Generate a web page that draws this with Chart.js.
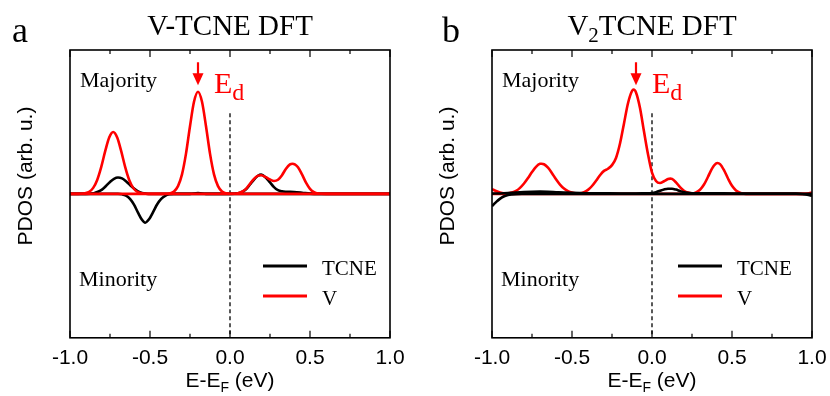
<!DOCTYPE html>
<html>
<head>
<meta charset="utf-8">
<script src="https://cdn.jsdelivr.net/npm/chart.js@4.4.1/dist/chart.umd.min.js"></script>
<style>
  html, body { margin: 0; padding: 0; background: #fff; }
  #wrap { position: relative; width: 830px; height: 396px; }
  .panel { position: absolute; top: 0; width: 415px; height: 396px; }
</style>
</head>
<body>
<div id="wrap">
  <div class="panel" style="left:0"><canvas id="chartA" width="415" height="396"></canvas></div>
  <div class="panel" style="left:415px"><canvas id="chartB" width="415" height="396"></canvas></div>
</div>
<script>
// PDOS, [energy (eV), PDOS (arb. u.)]
// panel a : V-TCNE
var aTcneUp = [[-1, 0], [-0.9, 0], [-0.85, 0.005], [-0.825, 0.015], [-0.8, 0.03], [-0.775, 0.055], [-0.75, 0.083],
  [-0.725, 0.105], [-0.7, 0.114], [-0.675, 0.108], [-0.65, 0.088], [-0.625, 0.062], [-0.6, 0.037], [-0.575, 0.018],
  [-0.55, 0.007], [-0.525, 0.002], [-0.5, 0], [-0.25, 0], [-0.2, 0.006], [-0.15, 0], [0, 0], [0.05, 0.004],
  [0.075, 0.013], [0.1, 0.032], [0.125, 0.065], [0.15, 0.1], [0.175, 0.126], [0.195, 0.134], [0.225, 0.112],
  [0.25, 0.08], [0.275, 0.047], [0.3, 0.026], [0.325, 0.018], [0.35, 0.015], [0.4, 0.013], [0.45, 0.008],
  [0.5, 0.002], [0.55, 0], [1, 0]];
var aTcneDown = [[-1, 0], [-0.7, 0], [-0.675, -0.003], [-0.65, -0.012], [-0.625, -0.035], [-0.6, -0.075],
  [-0.575, -0.13], [-0.55, -0.18], [-0.53, -0.2], [-0.505, -0.175], [-0.48, -0.125], [-0.455, -0.072],
  [-0.43, -0.035], [-0.405, -0.013], [-0.38, -0.003], [-0.35, 0], [1, 0]];
var aVUp = [[-1, 0], [-0.95, 0], [-0.93, 0.001], [-0.905, 0.005], [-0.88, 0.015], [-0.855, 0.042], [-0.83, 0.097],
  [-0.805, 0.186], [-0.78, 0.297], [-0.755, 0.392], [-0.73, 0.43], [-0.705, 0.392], [-0.68, 0.297], [-0.655, 0.186],
  [-0.63, 0.097], [-0.605, 0.042], [-0.58, 0.015], [-0.555, 0.005], [-0.53, 0.001], [-0.5, 0], [-0.425, 0],
  [-0.4, 0.001], [-0.375, 0.004], [-0.35, 0.017], [-0.325, 0.054], [-0.3, 0.136], [-0.275, 0.28], [-0.25, 0.47],
  [-0.225, 0.64], [-0.2, 0.71], [-0.175, 0.64], [-0.15, 0.47], [-0.125, 0.28], [-0.1, 0.136], [-0.075, 0.054],
  [-0.05, 0.017], [-0.025, 0.004], [0, 0.001], [0.025, 0.001], [0.05, 0.005], [0.075, 0.015], [0.1, 0.035],
  [0.125, 0.07], [0.15, 0.105], [0.175, 0.127], [0.195, 0.13], [0.225, 0.116], [0.25, 0.1], [0.275, 0.09],
  [0.3, 0.098], [0.325, 0.13], [0.35, 0.175], [0.375, 0.205], [0.39, 0.21], [0.405, 0.206], [0.425, 0.185],
  [0.45, 0.135], [0.475, 0.078], [0.5, 0.035], [0.525, 0.012], [0.55, 0.003], [0.6, 0], [1, 0]];
var aVDown = [[-1, 0], [1, 0]];

// panel b : V2TCNE
var bTcneUp = [[-1, 0.002], [-0.95, 0.003], [-0.9, 0.006], [-0.85, 0.01], [-0.8, 0.013], [-0.75, 0.015],
  [-0.7, 0.016], [-0.65, 0.015], [-0.6, 0.012], [-0.55, 0.009], [-0.5, 0.007], [-0.4, 0.005], [-0.3, 0.004],
  [-0.2, 0.003], [-0.1, 0.003], [-0.05, 0.004], [0, 0.006], [0.025, 0.012], [0.05, 0.022], [0.075, 0.031],
  [0.1, 0.036], [0.125, 0.036], [0.15, 0.03], [0.175, 0.02], [0.2, 0.011], [0.25, 0.005], [0.3, 0.004],
  [0.4, 0.004], [0.5, 0.003], [0.6, 0.003], [0.7, 0.003], [0.8, 0.003], [0.9, 0.002], [1, 0.001]];
var bTcneDown = [[-1, -0.085], [-0.985, -0.068], [-0.97, -0.052], [-0.955, -0.038], [-0.94, -0.026],
  [-0.92, -0.015], [-0.9, -0.008], [-0.875, -0.004], [-0.85, -0.002], [-0.8, -0.001], [-0.7, 0], [0.9, 0],
  [0.94, -0.002], [0.97, -0.006], [1, -0.013]];
var bVUp = [[-1, 0.033], [-0.975, 0.02], [-0.95, 0.009], [-0.925, 0.004], [-0.9, 0.004], [-0.875, 0.01],
  [-0.85, 0.021], [-0.825, 0.042], [-0.8, 0.072], [-0.775, 0.11], [-0.75, 0.152], [-0.725, 0.188], [-0.7, 0.209],
  [-0.69, 0.21], [-0.675, 0.206], [-0.65, 0.182], [-0.625, 0.144], [-0.6, 0.102], [-0.575, 0.065], [-0.55, 0.037],
  [-0.525, 0.019], [-0.5, 0.009], [-0.475, 0.005], [-0.45, 0.005], [-0.425, 0.012], [-0.4, 0.028], [-0.375, 0.055],
  [-0.35, 0.091], [-0.325, 0.13], [-0.3, 0.16], [-0.275, 0.175], [-0.25, 0.2], [-0.225, 0.25], [-0.2, 0.35],
  [-0.175, 0.49], [-0.15, 0.63], [-0.125, 0.715], [-0.115, 0.725], [-0.1, 0.705], [-0.075, 0.597], [-0.05, 0.433],
  [-0.025, 0.275], [0, 0.148], [0.025, 0.09], [0.05, 0.076], [0.075, 0.088], [0.1, 0.103], [0.115, 0.106],
  [0.125, 0.104], [0.15, 0.08], [0.175, 0.047], [0.2, 0.022], [0.225, 0.009], [0.25, 0.004], [0.275, 0.011],
  [0.3, 0.029], [0.325, 0.065], [0.35, 0.119], [0.375, 0.176], [0.4, 0.211], [0.41, 0.215], [0.425, 0.207],
  [0.45, 0.165], [0.475, 0.107], [0.5, 0.056], [0.525, 0.024], [0.55, 0.008], [0.575, 0.002], [0.6, 0],
  [0.95, 0], [0.975, 0.003], [1, 0.01]];
var bVDown = [[-1, 0], [1, 0]];

// energy of the E_d marker in each panel
var aEd = -0.2;
var bEd = -0.1;

var SERIF = "'Liberation Serif', 'Times New Roman', serif";
var SANS = "'Liberation Sans', Arial, sans-serif";
var RED = '#ff0000';

function toPoints(list) {
  return list.map(function (p) { return { x: p[0], y: p[1] }; });
}

function line(label, list, color, order) {
  return {
    label: label,
    data: toPoints(list),
    borderColor: color,
    borderWidth: 2.6,
    pointRadius: 0,
    fill: false,
    cubicInterpolationMode: 'monotone',
    order: order
  };
}

// draws a string made of [text, fontSize, dy] pieces, left aligned
function drawPieces(ctx, x, y, pieces, family) {
  pieces.forEach(function (p) {
    ctx.font = p[1] + 'px ' + family;
    ctx.fillText(p[0], x, y + (p[2] || 0));
    x += ctx.measureText(p[0]).width;
  });
}

function piecesWidth(ctx, pieces, family) {
  var w = 0;
  pieces.forEach(function (p) {
    ctx.font = p[1] + 'px ' + family;
    w += ctx.measureText(p[0]).width;
  });
  return w;
}

var framePlugin = {
  id: 'frame',
  beforeDatasetsDraw: function (chart) {
    var ctx = chart.ctx, xs = chart.scales.x, ys = chart.scales.y, area = chart.chartArea;
    var x0 = xs.getPixelForValue(0);
    ctx.save();
    ctx.strokeStyle = '#000';
    ctx.lineWidth = 1.3;
    ctx.setLineDash([4, 3]);
    ctx.beginPath();
    ctx.moveTo(x0, ys.getPixelForValue(0.56));
    ctx.lineTo(x0, area.bottom);
    ctx.stroke();
    ctx.restore();
  },
  afterDatasetsDraw: function (chart) {
    var ctx = chart.ctx, xs = chart.scales.x, ys = chart.scales.y, area = chart.chartArea;
    var o = chart.options.plugins.frame;
    ctx.save();

    // box and inward ticks
    ctx.strokeStyle = '#000';
    ctx.lineWidth = 1.6;
    ctx.strokeRect(area.left, area.top, area.right - area.left, area.bottom - area.top);
    ctx.lineWidth = 1.2;
    xs.ticks.forEach(function (t) {
      var px = xs.getPixelForValue(t.value);
      var major = Math.abs(t.value * 2 - Math.round(t.value * 2)) < 1e-6;
      var len = major ? 7 : 4;
      ctx.beginPath();
      ctx.moveTo(px, area.bottom); ctx.lineTo(px, area.bottom - len);
      ctx.moveTo(px, area.top); ctx.lineTo(px, area.top + len);
      ctx.stroke();
    });

    // E_d arrow
    var ax = xs.getPixelForValue(o.ed);
    var tip = ys.getPixelForValue(0.755);
    ctx.fillStyle = RED;
    ctx.strokeStyle = RED;
    ctx.lineWidth = 2.2;
    ctx.beginPath();
    ctx.moveTo(ax, tip - 23); ctx.lineTo(ax, tip - 10);
    ctx.stroke();
    ctx.beginPath();
    ctx.moveTo(ax - 5.5, tip - 12); ctx.lineTo(ax + 5.5, tip - 12); ctx.lineTo(ax, tip);
    ctx.closePath();
    ctx.fill();
    ctx.textBaseline = 'alphabetic';
    ctx.textAlign = 'left';
    drawPieces(ctx, ax + 16, tip + 8, [['E', 30, 0], ['d', 24, 7]], SERIF);

    // spin labels
    ctx.fillStyle = '#000';
    ctx.font = '22px ' + SERIF;
    ctx.fillText('Majority', area.left + 10, 87);
    ctx.fillText('Minority', area.left + 9, 286);

    // legend
    var items = [['TCNE', '#000', 266], ['V', RED, 296]];
    items.forEach(function (it) {
      ctx.strokeStyle = it[1];
      ctx.lineWidth = 3;
      ctx.beginPath();
      ctx.moveTo(263, it[2]); ctx.lineTo(307, it[2]);
      ctx.stroke();
      ctx.fillStyle = '#000';
      ctx.font = '21px ' + SERIF;
      ctx.fillText(it[0], 322, it[2] + 9);
    });

    // panel letter and title
    ctx.font = '36px ' + SERIF;
    ctx.fillText(o.letter, o.letterX, 42);
    var tw = piecesWidth(ctx, o.title, SERIF);
    drawPieces(ctx, xs.getPixelForValue(0) - tw / 2, 35, o.title, SERIF);

    // x title
    var xt = [['E-E', 21, 0], ['F', 14, 5], [' (eV)', 21, 0]];
    var xw = piecesWidth(ctx, xt, SANS);
    drawPieces(ctx, xs.getPixelForValue(0) - xw / 2, 387, xt, SANS);

    // y title
    ctx.save();
    ctx.translate(area.left - 38, 176);
    ctx.rotate(-Math.PI / 2);
    ctx.font = '21px ' + SANS;
    ctx.textAlign = 'center';
    ctx.fillText('PDOS (arb. u.)', 0, 0);
    ctx.restore();

    ctx.restore();
  }
};

function makePanel(id, sets, frameOpts, padding) {
  return new Chart(document.getElementById(id), {
    type: 'line',
    data: { datasets: sets },
    options: {
      responsive: false,
      animation: false,
      layout: { padding: padding },
      scales: {
        x: {
          type: 'linear',
          min: -1,
          max: 1,
          grid: { display: false, drawTicks: false },
          border: { display: false },
          afterFit: function (s) { s.paddingLeft = 0; s.paddingRight = 0; },
          ticks: {
            stepSize: 0.25,
            autoSkip: false,
            maxRotation: 0,
            padding: 8,
            color: '#000',
            font: { family: SANS, size: 21 },
            callback: function (v) {
              return Math.abs(v * 2 - Math.round(v * 2)) < 1e-6 ? v.toFixed(1) : '';
            }
          }
        },
        y: { display: false, min: -1, max: 1 }
      },
      plugins: {
        legend: { display: false },
        tooltip: { enabled: false },
        frame: frameOpts
      }
    },
    plugins: [framePlugin]
  });
}

// panel a: V lines on top
makePanel('chartA', [
  line('TCNE', aTcneUp, '#000', 3),
  line('TCNE', aTcneDown, '#000', 4),
  line('V', aVUp, RED, 1),
  line('V', aVDown, RED, 2)
], {
  ed: aEd, letter: 'a', letterX: 12,
  title: [['V-TCNE DFT', 29, 0]]
}, { left: 70, right: 25, top: 50, bottom: 17 });

// panel b: TCNE lines on top
makePanel('chartB', [
  line('V', bVUp, RED, 3),
  line('V', bVDown, RED, 4),
  line('TCNE', bTcneUp, '#000', 1),
  line('TCNE', bTcneDown, '#000', 2)
], {
  ed: bEd, letter: 'b', letterX: 27,
  title: [['V', 29, 0], ['2', 21, 7], ['TCNE DFT', 29, 0]]
}, { left: 77, right: 18, top: 50, bottom: 17 });
</script>
</body>
</html>
